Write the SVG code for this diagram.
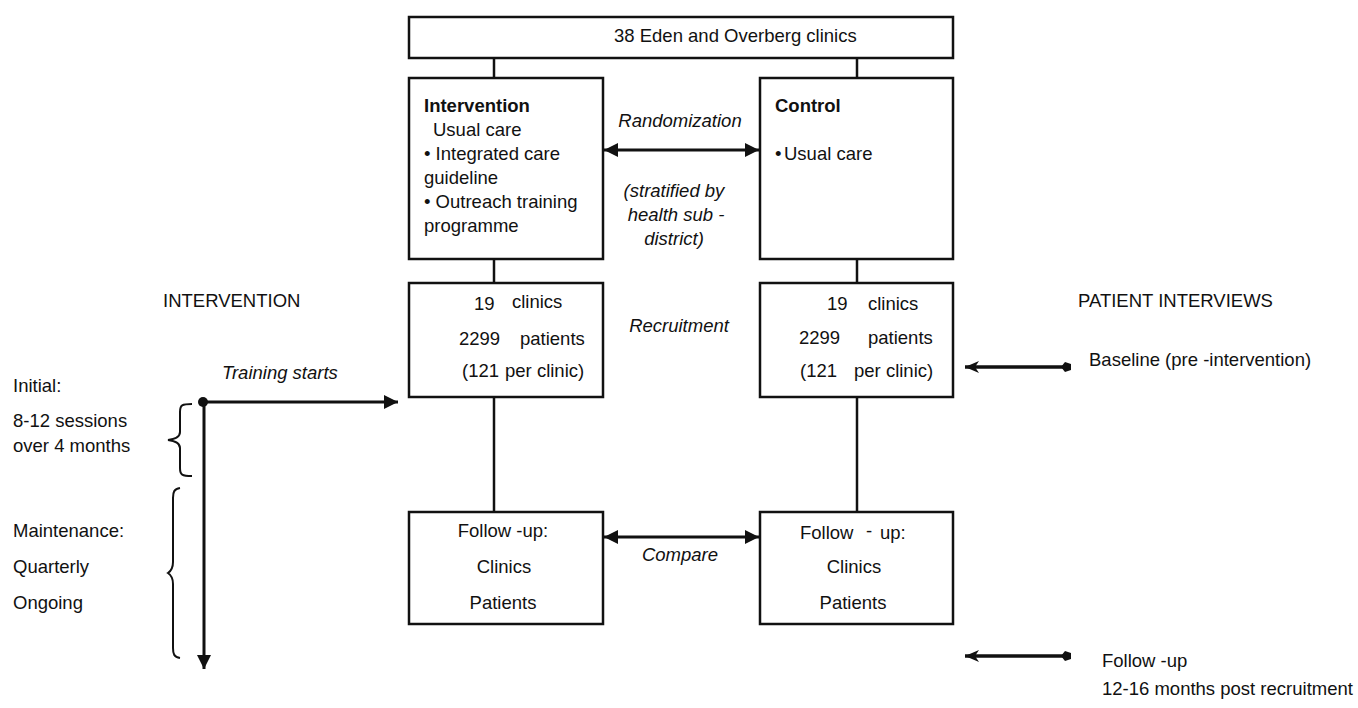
<svg xmlns="http://www.w3.org/2000/svg" width="1358" height="708" viewBox="0 0 1358 708">
<style>
text{font-family:"Liberation Sans",Arial,sans-serif;font-size:18.5px;fill:#111}
.b{font-weight:bold}
.i{font-style:italic}
.m{text-anchor:middle}
rect{fill:#fff;stroke:#111;stroke-width:2.5}
.ln{stroke:#111;stroke-width:2.5;fill:none}
.ar{stroke:#111;stroke-width:3;fill:none}
.ar2{stroke:#111;stroke-width:3.5;fill:none}
.br{stroke:#111;stroke-width:2;fill:none}
</style>
<defs>
<marker id="tri" viewBox="0 0 14 14" refX="14" refY="7" markerWidth="14" markerHeight="14" markerUnits="userSpaceOnUse" orient="auto-start-reverse">
<path d="M0,0 L14,7 L0,14 z" fill="#111"/>
</marker>
<marker id="stealth" viewBox="0 0 14 12" refX="14" refY="6" markerWidth="14" markerHeight="12" markerUnits="userSpaceOnUse" orient="auto-start-reverse">
<path d="M0,0 L14,6 L0,12 L4,6 z" fill="#111"/>
</marker>
<marker id="dia" viewBox="0 0 12 12" refX="6" refY="6" markerWidth="12" markerHeight="12" markerUnits="userSpaceOnUse" orient="auto">
<path d="M1,6 L5,1 L11,3 L11,9 L5,11 z" fill="#111"/>
</marker>
<marker id="dot" viewBox="0 0 10 10" refX="5" refY="5" markerWidth="10" markerHeight="10" markerUnits="userSpaceOnUse">
<circle cx="5" cy="5" r="5" fill="#111"/>
</marker>
</defs>

<g id="connectors">
<line class="ln" x1="494" y1="58" x2="494" y2="78"/>
<line class="ln" x1="857" y1="58" x2="857" y2="78"/>
<line class="ln" x1="494" y1="259" x2="494" y2="283"/>
<line class="ln" x1="857" y1="259" x2="857" y2="283"/>
<line class="ln" x1="494" y1="397" x2="494" y2="512"/>
<line class="ln" x1="857" y1="397" x2="857" y2="512"/>
<line class="ar" x1="604" y1="150" x2="759" y2="150" marker-start="url(#tri)" marker-end="url(#tri)"/>
<line class="ar" x1="604" y1="537" x2="759" y2="537" marker-start="url(#tri)" marker-end="url(#tri)"/>
<line class="ar" x1="203" y1="402" x2="398" y2="402" marker-start="url(#dot)" marker-end="url(#tri)"/>
<line class="ar" x1="204" y1="402" x2="204" y2="669" marker-end="url(#tri)"/>
<line class="ar2" x1="965" y1="367" x2="1066" y2="367" marker-start="url(#stealth)" marker-end="url(#dia)"/>
<line class="ar2" x1="965" y1="656" x2="1066" y2="656" marker-start="url(#stealth)" marker-end="url(#dia)"/>
</g>

<g id="top">
<rect x="409" y="17" width="544" height="41"/>
<text x="614" y="42">38 Eden and Overberg clinics</text>
</g>

<g id="intervention">
<rect x="409" y="78" width="194" height="181"/>
<text x="424" y="112" class="b">Intervention</text>
<text x="433" y="136">Usual care</text>
<text x="424" y="160">• Integrated care</text>
<text x="424" y="184">guideline</text>
<text x="424" y="208">• Outreach training</text>
<text x="424" y="232">programme</text>
</g>

<g id="control">
<rect x="760" y="78" width="193" height="181"/>
<text x="775" y="112" class="b">Control</text>
<text x="775" y="160">•</text>
<text x="784" y="160">Usual care</text>
</g>

<g id="randomization-labels">
<text x="680" y="127" class="i m">Randomization</text>
<text x="674" y="197" class="i m">(stratified by</text>
<text x="676" y="221" class="i m">health sub -</text>
<text x="674" y="245" class="i m">district)</text>
</g>

<g id="recruit-left">
<rect x="409" y="283" width="194" height="114"/>
<text x="474" y="310">19</text>
<text x="512" y="308">clinics</text>
<text x="459" y="345">2299</text>
<text x="520" y="345">patients</text>
<text x="462" y="377">(121</text>
<text x="505" y="377">per clinic)</text>
</g>

<g id="recruit-right">
<rect x="760" y="283" width="193" height="114"/>
<text x="827" y="310">19</text>
<text x="868" y="310">clinics</text>
<text x="799" y="344">2299</text>
<text x="868" y="344">patients</text>
<text x="800" y="377">(121</text>
<text x="854" y="377">per clinic)</text>
</g>

<text x="679" y="332" class="i m">Recruitment</text>

<g id="followup-left">
<rect x="409" y="512" width="194" height="112"/>
<text x="503" y="537" class="m">Follow -up:</text>
<text x="504" y="573" class="m">Clinics</text>
<text x="503" y="609" class="m">Patients</text>
</g>

<g id="followup-right">
<rect x="760" y="512" width="193" height="112"/>
<text x="800" y="539">Follow</text>
<text x="866" y="537">-</text>
<text x="880" y="539">up:</text>
<text x="854" y="573" class="m">Clinics</text>
<text x="853" y="609" class="m">Patients</text>
</g>

<text x="680" y="561" class="i m">Compare</text>

<g id="left-labels">
<text x="163" y="307">INTERVENTION</text>
<text x="222" y="379" class="i">Training starts</text>
<text x="13" y="392">Initial:</text>
<text x="13" y="427">8-12 sessions</text>
<text x="13" y="452">over 4 months</text>
<text x="13" y="537">Maintenance:</text>
<text x="13" y="573">Quarterly</text>
<text x="13" y="609">Ongoing</text>
<path class="br" d="M192,404 C182,404 180,405 180,412 L180,432 C180,437 176,439 168,440 C176,441 180,443 180,448 L180,468 C180,475 182,476 192,476"/>
<path class="br" d="M180,488 C174,489 173,492 173,498 L173,562 C173,568 171,571 168,573 C171,575 173,578 173,584 L173,648 C173,654 174,657 180,658"/>
</g>

<g id="right-labels">
<text x="1078" y="307">PATIENT  INTERVIEWS</text>
<text x="1089" y="366">Baseline (pre -intervention)</text>
<text x="1102" y="667">Follow -up</text>
<text x="1102" y="695">12-16 months post recruitment</text>
</g>
</svg>
